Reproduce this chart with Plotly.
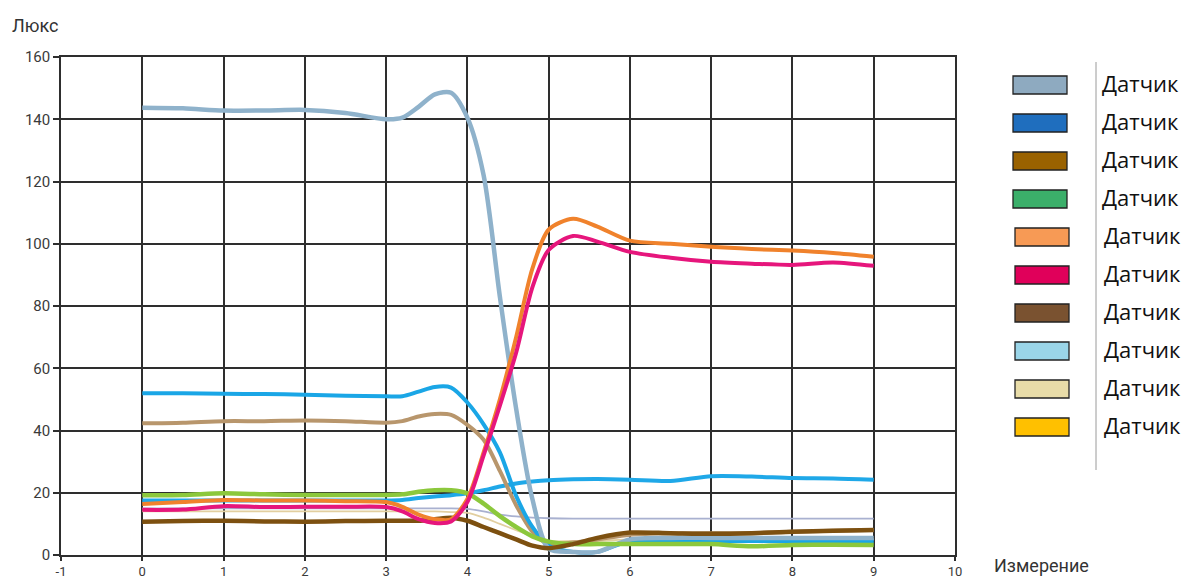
import plotly.graph_objects as go

# Measurement positions (x) shared by every sensor series
x_pos = [0, 0.5, 1, 1.5, 2, 2.5, 3, 3.2, 3.4, 3.6, 3.8, 4, 4.2, 4.4, 4.6, 4.8,
         5, 5.3, 5.6, 6, 6.5, 7, 7.5, 8, 8.5, 9]

# Illuminance (lux) per sensor
s_grayblue = [143.7, 143.5, 142.8, 142.8, 143, 142, 140, 140.5, 144, 148, 148.5, 140.5, 122, 83, 47, 18,
              2, 1, 1, 5, 5.5, 5.5, 5.5, 5.5, 5.5, 5.5]
s_blue = [52, 52, 51.8, 51.7, 51.5, 51.2, 51, 51, 52.5, 54, 53.8, 49, 42, 33, 19, 9,
          3, 1, 1, 4.5, 4.5, 4.5, 4.5, 4.5, 4.5, 4.5]
s_tan = [42.3, 42.5, 43, 43, 43.2, 43, 42.5, 43, 44.5, 45.3, 45, 41.8, 37, 27, 16, 7.5,
         3.5, 4, 5, 6.5, 7, 7, 7, 7.5, 7.8, 8]
s_green = [19.2, 19.3, 19.8, 19.5, 19.3, 19.3, 19.3, 19.5, 20.3, 20.8, 20.8, 19.8, 16.5, 12.5, 9, 6,
           4.3, 3.5, 3.5, 3.5, 3.5, 3.5, 2.8, 3.2, 3.3, 3.2]
s_orange = [16.4, 17, 17.7, 17.5, 17.5, 17.3, 17, 15.5, 13, 11.5, 11.5, 18, 33, 50, 70, 92,
            104.5, 108, 105.5, 101, 100, 99, 98.3, 97.8, 97, 95.8]
s_pink = [14.5, 14.6, 15.7, 15.4, 15.5, 15.5, 15.4, 14, 11.5, 10.3, 10.8, 17, 32, 48, 65, 86,
          98, 102.5, 100.7, 97.4, 95.5, 94.2, 93.6, 93.2, 94, 92.9]
s_brown = [10.7, 10.9, 11, 10.8, 10.7, 10.9, 11, 11, 11, 11.5, 12, 11, 9, 7, 5, 3,
           2.2, 3.5, 5.5, 7.2, 7, 6.8, 7, 7.5, 7.8, 8]
s_sky = [17.5, 17.5, 17.5, 17.5, 17.5, 17.5, 17.5, 17.7, 18.3, 18.8, 19.2, 19.8, 20.8, 22, 23, 23.6,
         24, 24.3, 24.4, 24.2, 23.8, 25.3, 25.2, 24.7, 24.6, 24.2]
s_beige = [14, 14, 14, 14, 14, 14, 14, 14, 14, 14, 13.8, 13.5, 12, 10, 8, 6,
           4.5, 4.5, 4.5, 5, 5, 5, 5, 5, 5, 5]
s_lavender = [15, 15, 15, 15, 15, 15, 15, 15, 15, 15, 15, 14.8, 14, 13, 12.4, 12,
              11.8, 11.7, 11.7, 11.7, 11.7, 11.7, 11.7, 11.7, 11.7, 11.7]

x_ticks = [-1, 0, 1, 2, 3, 4, 5, 6, 7, 8, 9, 10]
x_tick_text = [str(v) for v in x_ticks]

legend_labels = ["Датчик"] * 10
legend_colors = ["#8eaac0", "#1f6ebe", "#9a6200", "#3baf6a", "#f79a55",
                 "#e0005a", "#7a5230", "#9ad5e8", "#e8dca8", "#ffc000"]

# drawing order: back to front
series = [
    (s_lavender, "#a9b1d0", 1.8),
    (s_beige, "#e2cfa0", 1.8),
    (s_sky, "#1fa8e8", 4),
    (s_tan, "#b8966c", 4),
    (s_blue, "#1aa6e6", 4),
    (s_grayblue, "#8fb2cb", 4.5),
    (s_green, "#8cc83c", 4.5),
    (s_brown, "#7d5010", 4.5),
    (s_orange, "#f0822c", 4),
    (s_pink, "#e6167c", 4),
]

fig = go.Figure()
for ys, col, w in series:
    fig.add_trace(go.Scatter(x=x_pos, y=ys, mode="lines",
                             line=dict(color=col, width=w, shape="spline", smoothing=0.8),
                             showlegend=False, hoverinfo="skip"))

W, H = 1194, 580
L, R, T, B = 61, 239, 57, 25
pw, ph = W - L - R, H - T - B


def px(xp):
    return (xp - L) / pw


def py(yp):
    return (H - B - yp) / ph


grid_col = "#2e2e2e"
axis_common = dict(showgrid=True, gridcolor=grid_col, gridwidth=1.6,
                   showline=True, linecolor=grid_col, linewidth=1.6, mirror=True,
                   ticks="outside", tickcolor=grid_col, tickwidth=1.6,
                   zeroline=False, automargin=False)

fig.update_layout(
    width=W, height=H,
    margin=dict(l=L, r=R, t=T, b=B, autoexpand=False),
    paper_bgcolor="white", plot_bgcolor="white",
    xaxis=dict(range=[-1, 10], tickvals=x_ticks, ticktext=x_tick_text, ticklen=4,
               tickfont=dict(family="Roboto", size=13, color="#3a3a3a"), **axis_common),
    yaxis=dict(range=[0, 160], dtick=20, ticklen=6,
               tickfont=dict(family="Roboto", size=15, color="#3a3a3a"), **axis_common),
)

shapes = []
annotations = []

# custom legend: colour boxes with labels and a divider line
row_y = [85, 123, 161, 199, 237, 275, 313, 351, 389, 427]
for i, (lab, col, ry) in enumerate(zip(legend_labels, legend_colors, row_y)):
    x0 = 1013 if i < 4 else 1015
    shapes.append(dict(type="rect", xref="paper", yref="paper",
                       x0=px(x0), x1=px(x0 + 54), y0=py(ry + 9), y1=py(ry - 9),
                       fillcolor=col, line=dict(color="#222", width=1.3)))
    annotations.append(dict(text=lab, xref="paper", yref="paper",
                            x=px(1100 if i < 4 else 1102), y=py(ry - 2), xanchor="left", yanchor="middle",
                            showarrow=False, font=dict(family="Open Sans", size=22, color="#111")))
shapes.append(dict(type="line", xref="paper", yref="paper",
                   x0=px(1096), x1=px(1096), y0=py(62), y1=py(470),
                   line=dict(color="#9a9a9a", width=1)))

annotations.append(dict(text="Люкс", xref="paper", yref="paper", x=px(10), y=py(25),
                        xanchor="left", yanchor="middle", showarrow=False,
                        font=dict(family="Roboto", size=18, color="#333")))
annotations.append(dict(text="Измерение", xref="paper", yref="paper", x=px(992), y=py(565),
                        xanchor="left", yanchor="middle", showarrow=False,
                        font=dict(family="Roboto", size=18, color="#333")))

fig.update_layout(shapes=shapes, annotations=annotations)
fig.write_html("out.html")
